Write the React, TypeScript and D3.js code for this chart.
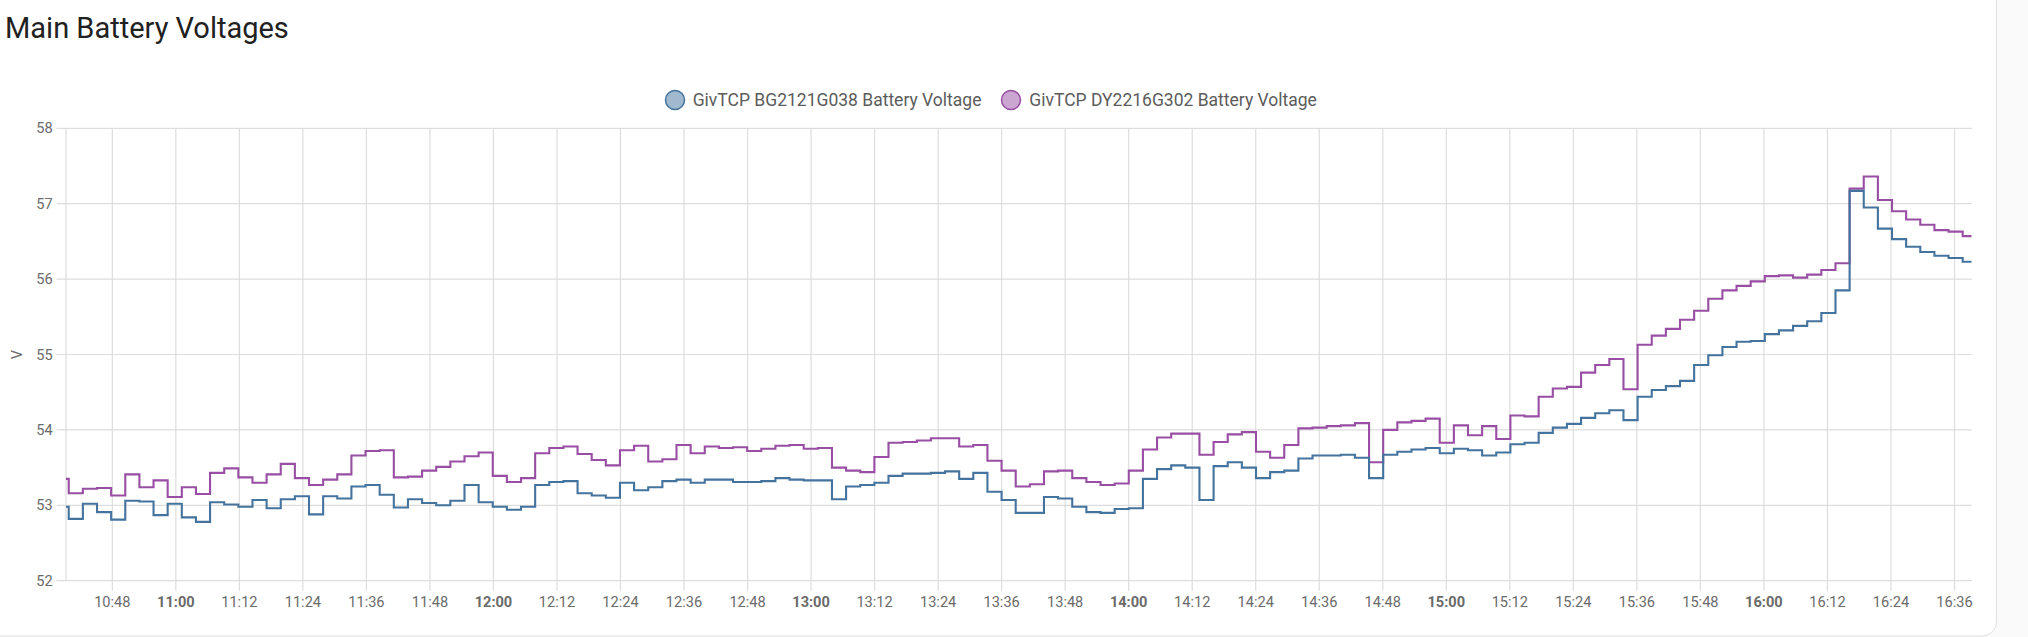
import React from "react";
import * as d3 from "d3";

// ---- data ----
const chartTitle = "Main Battery Voltages";
const seriesNames = [
  "GivTCP BG2121G038 Battery Voltage",
  "GivTCP DY2216G302 Battery Voltage",
];
const seriesColors = ["#44739e", "#984ea3"];
const windowStart = [10, 39, 15];
const windowEnd = [16, 39, 15];
const firstChange = [10, 39, 46];
const sampleSeconds = 160.2;
const yTickValues = [52, 53, 54, 55, 56, 57, 58];

const bg2121Values = [
  52.98, 52.82, 53.02, 52.91, 52.81, 53.06, 53.05, 52.87, 53.02, 52.84,
  52.78, 53.04, 53.01, 52.98, 53.07, 52.96, 53.08, 53.12, 52.88, 53.12,
  53.09, 53.25, 53.27, 53.14, 52.97, 53.08, 53.03, 53.0, 53.06, 53.27,
  53.04, 52.98, 52.94, 52.98, 53.27, 53.31, 53.32, 53.16, 53.13, 53.1,
  53.3, 53.2, 53.24, 53.32, 53.34, 53.3, 53.34, 53.34, 53.31, 53.31,
  53.32, 53.36, 53.34, 53.33, 53.33, 53.08, 53.25, 53.27, 53.3, 53.39,
  53.42, 53.42, 53.43, 53.45, 53.35, 53.43, 53.18, 53.07, 52.9, 52.9,
  53.11, 53.09, 52.98, 52.91, 52.9, 52.95, 52.96, 53.35, 53.48, 53.53,
  53.5, 53.07, 53.52, 53.57, 53.5, 53.36, 53.44, 53.46, 53.62, 53.66,
  53.66, 53.67, 53.63, 53.36, 53.67, 53.71, 53.74, 53.76, 53.69, 53.75,
  53.73, 53.66, 53.7, 53.81, 53.83, 53.96, 54.03, 54.08, 54.16, 54.22,
  54.26, 54.13, 54.44, 54.53, 54.58, 54.65, 54.86, 54.99, 55.1, 55.17,
  55.18, 55.27, 55.32, 55.38, 55.44, 55.55, 55.85, 57.17, 56.95, 56.67,
  56.53, 56.43, 56.36, 56.31, 56.28, 56.23,
];

const dy2216Values = [
  53.35, 53.16, 53.22, 53.23, 53.13, 53.41, 53.24, 53.33, 53.11, 53.24,
  53.15, 53.43, 53.49, 53.37, 53.3, 53.41, 53.55, 53.36, 53.27, 53.34,
  53.41, 53.66, 53.72, 53.73, 53.37, 53.38, 53.46, 53.51, 53.58, 53.65,
  53.7, 53.39, 53.31, 53.36, 53.69, 53.76, 53.78, 53.68, 53.6, 53.53,
  53.73, 53.79, 53.58, 53.61, 53.8, 53.69, 53.78, 53.76, 53.77, 53.72,
  53.75, 53.79, 53.8, 53.75, 53.76, 53.5, 53.46, 53.44, 53.64, 53.83,
  53.84, 53.86, 53.89, 53.89, 53.78, 53.8, 53.59, 53.46, 53.25, 53.28,
  53.45, 53.46, 53.36, 53.31, 53.27, 53.29, 53.46, 53.74, 53.9, 53.95,
  53.95, 53.67, 53.84, 53.94, 53.97, 53.71, 53.63, 53.8, 54.02, 54.03,
  54.05, 54.06, 54.09, 53.57, 54.0, 54.1, 54.12, 54.15, 53.83, 54.06,
  53.93, 54.05, 53.88, 54.19, 54.18, 54.44, 54.55, 54.57, 54.76, 54.86,
  54.94, 54.54, 55.13, 55.25, 55.34, 55.46, 55.58, 55.74, 55.85, 55.91,
  55.97, 56.04, 56.05, 56.02, 56.06, 56.12, 56.21, 57.2, 57.36, 57.05,
  56.9, 56.79, 56.72, 56.65, 56.63, 56.57,
];

// ---- layout ----
const W = 2028;
const H = 637;
const plotLeft = 66;
const plotRight = 1971.7;
const plotTop = 128.3;
const plotBottom = 580.7;
const FONT = "Roboto, 'Noto Sans', sans-serif";

const day = (hms: number[]) => new Date(2023, 4, 20, hms[0], hms[1], hms[2]);

type Pt = { t: Date; v: number };

function buildSeries(values: number[]): Pt[] {
  const start = day(windowStart);
  const first = day(firstChange).getTime();
  const pts: Pt[] = values.map((v, i) => ({
    t: i === 0 ? start : new Date(first + (i - 1) * sampleSeconds * 1000),
    v,
  }));
  pts.push({ t: day(windowEnd), v: values[values.length - 1] });
  return pts;
}

export default function App() {
  const x = d3
    .scaleTime()
    .domain([day(windowStart), day(windowEnd)])
    .range([plotLeft, plotRight]);
  const y = d3.scaleLinear().domain([52, 58]).range([plotBottom, plotTop]);

  const xTicks = x.ticks(d3.timeMinute.every(12) as any);
  const fmt = d3.timeFormat("%H:%M");

  const line = d3
    .line<Pt>()
    .x((d) => x(d.t))
    .y((d) => y(d.v))
    .curve(d3.curveStepAfter);

  const series = [bg2121Values, dy2216Values].map(buildSeries);

  const gridColor = "#dddddd";
  const tickColor = "#6b6b6b";

  const legendItems = [
    { cx: 675, tx: 692.7 },
    { cx: 1011, tx: 1029.3 },
  ];

  return (
    <div style={{ position: "fixed", left: 0, top: 0, width: W, height: H }}>
      <svg width={W} height={H} style={{ display: "block" }}>
        <rect x={0} y={0} width={W} height={H} fill="#fafafa" />
        <rect
          x={-20}
          y={-20}
          width={2016.5}
          height={656}
          rx={14}
          ry={14}
          fill="#ffffff"
          stroke="#e0e0e0"
          strokeWidth={1}
        />
        <text
          x={5}
          y={37.7}
          fontFamily={FONT}
          fontSize={29}
          fill="#212121"
        >
          {chartTitle}
        </text>

        {/* legend */}
        {seriesNames.map((name, i) => (
          <g key={name}>
            <circle
              cx={legendItems[i].cx}
              cy={100}
              r={9.5}
              fill={seriesColors[i]}
              fillOpacity={0.5}
              stroke={seriesColors[i]}
              strokeWidth={1.5}
            />
            <text
              x={legendItems[i].tx}
              y={100}
              dy="0.36em"
              fontFamily={FONT}
              fontSize={17.5}
              fill="#5c5c5c"
            >
              {name}
            </text>
          </g>
        ))}

        {/* horizontal grid + y ticks */}
        {yTickValues.map((v) => (
          <g key={v}>
            <line
              x1={plotLeft - 9.5}
              x2={plotRight}
              y1={y(v)}
              y2={y(v)}
              stroke={gridColor}
              strokeWidth={1.2}
            />
            <text
              x={52.7}
              y={y(v)}
              dy="0.35em"
              textAnchor="end"
              fontFamily={FONT}
              fontSize={14.6}
              fill={tickColor}
            >
              {v}
            </text>
          </g>
        ))}

        {/* left axis border */}
        <line
          x1={plotLeft}
          x2={plotLeft}
          y1={plotTop}
          y2={plotBottom}
          stroke={gridColor}
          strokeWidth={1.2}
        />

        {/* vertical grid + x ticks */}
        {xTicks.map((t) => {
          const major = t.getMinutes() === 0;
          return (
            <g key={t.getTime()}>
              <line
                x1={x(t)}
                x2={x(t)}
                y1={plotTop}
                y2={plotBottom + 10}
                stroke={gridColor}
                strokeWidth={1.2}
              />
              <text
                x={x(t)}
                y={607}
                textAnchor="middle"
                fontFamily={FONT}
                fontSize={14.6}
                fontWeight={major ? 700 : 400}
                fill={tickColor}
              >
                {fmt(t)}
              </text>
            </g>
          );
        })}

        {/* y axis title */}
        <text
          transform={`translate(16.7, ${(plotTop + plotBottom) / 2}) rotate(-90)`}
          textAnchor="middle"
          dy="0.35em"
          fontFamily={FONT}
          fontSize={14.6}
          fill={tickColor}
        >
          V
        </text>

        <defs>
          <clipPath id="plotClip">
            <rect
              x={plotLeft}
              y={plotTop - 5}
              width={plotRight - plotLeft}
              height={plotBottom - plotTop + 10}
            />
          </clipPath>
        </defs>

        <g clipPath="url(#plotClip)">
          {[1, 0].map((i) => (
            <path
              key={i}
              d={line(series[i]) || ""}
              fill="none"
              stroke={seriesColors[i]}
              strokeWidth={2.1}
              strokeLinejoin="miter"
            />
          ))}
        </g>
      </svg>
    </div>
  );
}
